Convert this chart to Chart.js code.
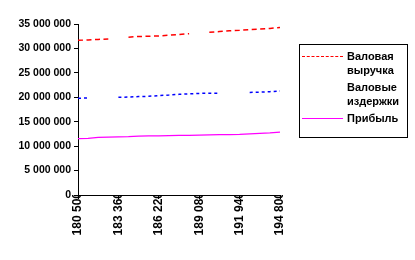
<!DOCTYPE html>
<html>
<head>
<meta charset="utf-8">
<script src="https://cdn.jsdelivr.net/npm/chart.js@4"></script>
<style>
body{margin:0;background:#fff;}
#wrap{position:relative;width:415px;height:260px;}
#legend{position:absolute;left:299px;top:44px;width:109px;height:94px;border:1px solid #000;
 padding-top:4px;box-sizing:border-box;font:bold 11px "Liberation Sans",Arial,sans-serif;color:#000;}
.item{display:flex;align-items:flex-start;line-height:14px;margin-bottom:3px;}
.sw{width:41px;margin:7px 4px 0 2px;height:0;flex:none;}
.tx{width:62px;}
</style>
</head>
<body>
<div id="wrap">
<canvas id="c" width="415" height="260"></canvas>
<div id="legend"></div>
</div>
<script>
// ---- данные ----
const volumes=[180500,181215,181930,182645,183360,184075,184790,185505,186220,186935,187650,
188365,189080,189795,190510,191225,191940,192655,193370,194085,194800];
const xTicks=[180500,183360,186220,189080,191940,194800];
const revenue=[31650000,31750000,31850000,31950000,null,32300000,32450000,32500000,32550000,32700000,32850000,
33000000,null,33300000,33450000,33600000,33700000,33850000,33950000,34100000,34300000];
const costs=[19800000,19850000,null,null,20000000,20050000,20150000,20200000,20350000,20450000,20600000,
20700000,20800000,20850000,20850000,null,null,21000000,21050000,21150000,21300000];
const profit=[11550000,11600000,11800000,11850000,11900000,11950000,12050000,12100000,12100000,12150000,12200000,
12200000,12250000,12300000,12350000,12350000,12400000,12500000,12600000,12700000,12850000];
const names=["Валовая выручка","Валовые издержки","Прибыль"];

Chart.defaults.font.family='"Liberation Sans", Arial, sans-serif';
Chart.defaults.font.weight='bold';
Chart.defaults.color="#000";

function pts(arr){return volumes.map((v,i)=>({x:v,y:arr[i]}));}
function fmt(v){return String(v).replace(/\B(?=(\d{3})+(?!\d))/g," ");}

const series=[
 {label:names[0],data:pts(revenue),borderColor:"#FF0000",borderWidth:1.5,borderDash:[5,3.5],legendCss:"border-top:1.5px dashed #FF0000"},
 {label:names[1],data:pts(costs),borderColor:"#0000FF",borderWidth:1.5,borderDash:[3,3],legendCss:"border-top:1.5px dotted transparent"},
 {label:names[2],data:pts(profit),borderColor:"#FF00FF",borderWidth:1.3,legendCss:"border-top:1.3px solid #FF00FF"}
];

new Chart(document.getElementById("c"),{
type:"line",
data:{datasets:series.map(s=>({label:s.label,data:s.data,borderColor:s.borderColor,borderWidth:s.borderWidth,
 borderDash:s.borderDash||[],pointRadius:0,tension:0,spanGaps:false,fill:false}))},
options:{
 responsive:false,animation:false,
 layout:{padding:{left:0,right:135,top:24,bottom:0}},
 plugins:{legend:{display:false},tooltip:{enabled:false}},
 scales:{
  x:{type:"linear",min:180500,max:194800,
   afterBuildTicks:s=>{s.ticks=xTicks.map(v=>({value:v}));},
   afterFit:s=>{s.height=65;},
   grid:{display:true,drawOnChartArea:false,tickLength:4,color:"#000"},
   border:{display:true,color:"#000",width:1},
   ticks:{autoSkip:false,minRotation:90,maxRotation:90,padding:-7,font:{size:12,weight:"bold"},callback:v=>fmt(v)}
  },
  y:{min:0,max:35000000,
   afterFit:s=>{s.width=78;},
   grid:{display:true,drawOnChartArea:false,tickLength:4,color:"#000"},
   border:{display:true,color:"#000",width:1},
   ticks:{stepSize:5000000,padding:3,font:{size:10.5,weight:"bold"},callback:v=>fmt(v)}
  }
 }
}
});

// легенда
const lg=document.getElementById("legend");
series.forEach(s=>{
 const it=document.createElement("div");it.className="item";
 const sw=document.createElement("span");sw.className="sw";sw.style.cssText=s.legendCss;
 const tx=document.createElement("span");tx.className="tx";tx.textContent=s.label;
 it.appendChild(sw);it.appendChild(tx);lg.appendChild(it);
});
</script>
</body>
</html>
